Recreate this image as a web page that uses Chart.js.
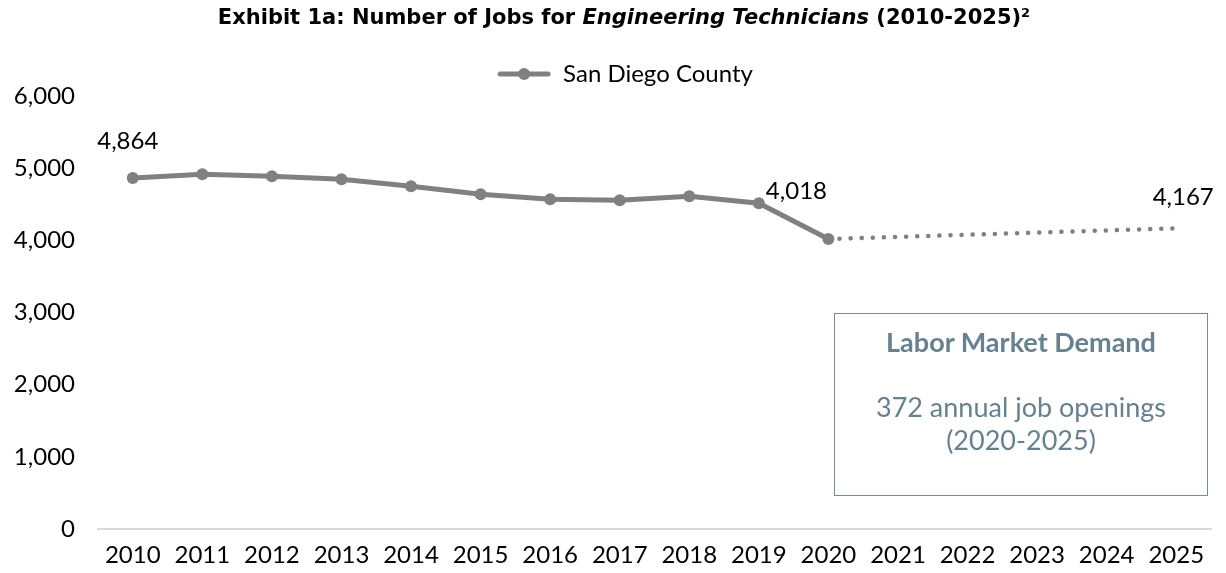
<!DOCTYPE html>
<html>
<head>
<meta charset="utf-8">
<script src="https://cdn.jsdelivr.net/npm/chart.js@4.4.1/dist/chart.umd.min.js"></script>
<style>
  html,body{margin:0;padding:0;background:#fff;}
  #wrap{position:relative;width:1226px;height:573px;overflow:hidden;}
  #title{position:absolute;left:0;top:5px;width:1248px;text-align:center;font-family:"DejaVu Sans",sans-serif;font-weight:bold;font-size:21px;color:#000;white-space:nowrap;}
  #title i{font-family:"DejaVu Sans",sans-serif;}
  #title sup{font-size:13px;vertical-align:7px;}
  #box{position:absolute;left:834px;top:313px;width:372px;height:181px;border:1.5px solid #6b8f9f;box-sizing:content-box;font-family:Lato,"Open Sans",sans-serif;color:#66818f;text-align:center;}
  #box .h{font-weight:bold;font-size:27px;margin-top:11px;}
  #box .b{font-size:27px;margin-top:32px;line-height:33px;}
  canvas{position:absolute;left:0;top:0;}
</style>
</head>
<body>
<div id="wrap">
  <canvas id="c" width="1226" height="573"></canvas>
  <div id="title">Exhibit 1a: Number of Jobs for <i>Engineering Technicians</i> (2010-2025)<sup>2</sup></div>
  <div id="box"><div class="h">Labor Market Demand</div><div class="b">372 annual job openings<br>(2020-2025)</div></div>
</div>
<script>
const years = ["2010","2011","2012","2013","2014","2015","2016","2017","2018","2019","2020","2021","2022","2023","2024","2025"];
const historical = [4864, 4917, 4889, 4847, 4750, 4639, 4569, 4556, 4611, 4514, 4018, null, null, null, null, null];
const projected = [null, null, null, null, null, null, null, null, null, null, 4018, null, null, null, null, 4167];
const labeledIdx = [0, 10, 15];
const labelValues = [4864, 4018, 4167];
const yTicks = [0, 1000, 2000, 3000, 4000, 5000, 6000];

const FONT = 'Lato, "Open Sans", sans-serif';
const GREY = '#808080';

// legend symbol image
const sym = document.createElement('canvas');
sym.width = 54; sym.height = 14;
(function(){
  const g = sym.getContext('2d');
  g.strokeStyle = GREY; g.lineWidth = 5; g.lineCap = 'round';
  g.beginPath(); g.moveTo(3,7); g.lineTo(51,7); g.stroke();
  g.fillStyle = GREY; g.beginPath(); g.arc(27,7,6,0,Math.PI*2); g.fill();
})();

const labelPlugin = {
  id: 'valueLabels',
  afterLayout(chart) {
    if (chart.legend) { chart.legend.left += 13; chart.legend.right += 13; }
  },
  afterDatasetsDraw(chart) {
    const ctx = chart.ctx;
    const offs = {0:[-5,-37], 10:[-32,-48], 15:[7,-31]};
    const yS = chart.scales.y, xS = chart.scales.x;
    ctx.save();
    ctx.font = '24px ' + FONT;
    ctx.fillStyle = '#000';
    ctx.textAlign = 'center';
    ctx.textBaseline = 'middle';
    labeledIdx.forEach((idx, k) => {
      const v = labelValues[k];
      const x = xS.getPixelForValue(idx);
      const y = yS.getPixelForValue(v);
      ctx.fillText(v.toLocaleString('en-US'), x + offs[idx][0], y + offs[idx][1]);
    });
    ctx.restore();
  }
};

new Chart(document.getElementById('c'), {
  type: 'line',
  data: {
    labels: years,
    datasets: [
      {
        label: 'San Diego County',
        data: historical,
        borderColor: GREY,
        backgroundColor: GREY,
        borderWidth: 5,
        pointRadius: 6,
        pointHoverRadius: 6,
        pointBackgroundColor: GREY,
        pointBorderWidth: 0,
        tension: 0,
        spanGaps: false
      },
      {
        label: 'Projected',
        data: projected,
        borderColor: GREY,
        borderWidth: 4.5,
        borderDash: [0.1, 11],
        borderCapStyle: 'round',
        pointRadius: 0,
        spanGaps: true,
        tension: 0
      }
    ]
  },
  options: {
    responsive: false,
    animation: false,
    events: [],
    layout: { padding: { left: 13, right: 15, top: 53, bottom: 3 } },
    plugins: {
      title: { display: false },
      tooltip: { enabled: false },
      legend: {
        display: true,
        position: 'top',
        labels: {
          usePointStyle: true,
          pointStyle: sym,
          pointStyleWidth: 54,
          boxHeight: 14,
          color: '#000',
          font: { family: FONT, size: 24 },
          padding: 9,
          generateLabels: (chart) => [{
            text: 'San Diego County', pointStyle: sym, fillStyle: GREY, strokeStyle: GREY,
            lineWidth: 0, datasetIndex: 0, hidden: false, fontColor: '#000'
          }]
        }
      }
    },
    scales: {
      x: {
        offset: true,
        afterFit: (axis) => { axis.height = 41; },
        grid: { display: false, drawTicks: false },
        border: { display: true, color: '#d9d9d9', width: 2 },
        ticks: { color: '#000', font: { family: FONT, size: 24 }, padding: 12, maxRotation: 0, autoSkip: false }
      },
      y: {
        min: 0, max: 6000,
        afterFit: (axis) => { axis.width = 85; },
        afterBuildTicks: (axis) => { axis.ticks = yTicks.map(v => ({ value: v })); },
        grid: { display: false, drawTicks: false },
        border: { display: false },
        ticks: {
          color: '#000', font: { family: FONT, size: 24 }, padding: 23,
          callback: (v) => Number(v).toLocaleString('en-US')
        }
      }
    }
  },
  plugins: [labelPlugin]
});
</script>
</body>
</html>
